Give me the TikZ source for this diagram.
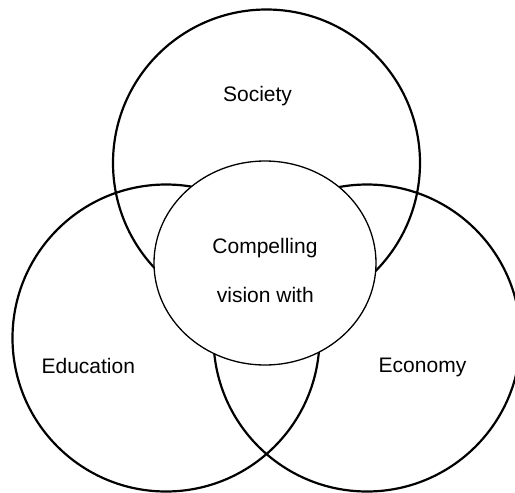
\documentclass[tikz,border=0pt]{standalone}
\usepackage{fontspec}
\setmainfont{Liberation Sans}
\usetikzlibrary{shapes.geometric}
\begin{document}
\begin{tikzpicture}[x=1pt,y=-1pt,
  bigcircle/.style={circle,draw=black,line width=2.2pt,minimum size=307pt,inner sep=0pt},
  core/.style={ellipse,draw=black,line width=1.3pt,fill=white,minimum width=222pt,minimum height=204pt,inner sep=0pt},
  lbl/.style={anchor=base,inner sep=0pt,font=\fontsize{21}{25}\selectfont}]
\useasboundingbox (0,0) rectangle (515,493);
\begin{scope}
\clip (0,0) rectangle (515,493);
\node[bigcircle] (society) at (266.5,163) {};
\node[bigcircle] (education) at (166,338) {};
\node[bigcircle] (economy) at (367,338) {};
\node[core] (vision) at (265,263) {};
\end{scope}
\node[lbl] (tsoc) at (257.5,101.7) {Society};
\node[lbl] (tcomp) at (265,253.3) {Compelling};
\node[lbl] (tvis) at (265.3,302.3) {vision with};
\node[lbl] (tedu) at (88.3,373.3) {Education};
\node[lbl] (teco) at (422.5,372.3) {Economy};
\end{tikzpicture}
\end{document}
